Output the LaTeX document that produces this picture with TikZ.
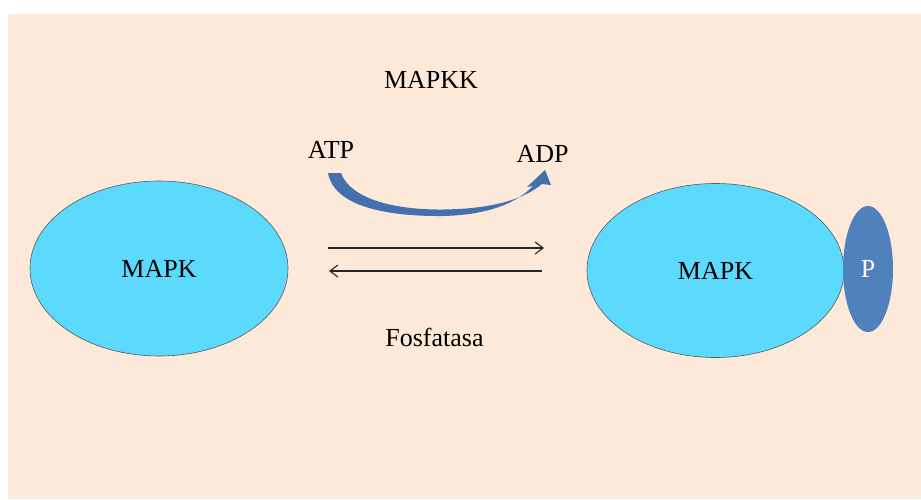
\documentclass[tikz,border=0pt]{standalone}
\usepackage{fontspec}
\setmainfont{Liberation Serif}
\usetikzlibrary{shapes.geometric,arrows.meta}
\definecolor{peach}{RGB}{253,233,217}
\definecolor{mapkblue}{RGB}{91,218,254}
\definecolor{pblue}{RGB}{79,129,189}
\definecolor{curveblue}{RGB}{68,112,176}
\begin{document}
\begin{tikzpicture}[x=1pt,y=-1pt,
  prot/.style={ellipse, draw=black!65, line width=0.6pt, fill=mapkblue, inner sep=0pt, font=\fontsize{26}{31}\selectfont},
  lbl/.style={anchor=base, font=\fontsize{26}{31}\selectfont, inner sep=0pt},
  rxn/.style={draw=black!85, line width=1.1pt, -{Straight Barb[length=8pt,width=12pt]}}]
\useasboundingbox (0,0) rectangle (921,499);
\fill[white] (0,0) rectangle (921,499);
\fill[peach] (8,14) rectangle (921,499);
% proteins
\node[prot, minimum width=258pt, minimum height=175pt] (mapk1) at (159,268.5) {MAPK};
\node[prot, minimum width=257pt, minimum height=174pt] (mapk2) at (715.5,270.5) {MAPK};
\node[ellipse, fill=pblue, inner sep=0pt, minimum width=50pt, minimum height=126pt,
      text=white, font=\fontsize{26}{31}\selectfont] (phos) at (868,269) {P};
% labels
\node[lbl] (mapkk) at (431,88) {MAPKK};
\node[lbl] (fosf) at (434.5,346) {Fosfatasa};
\node[lbl] (atp) at (331,158) {ATP};
\node[lbl] (adp) at (542.5,162) {ADP};
% curved arrow ATP -> ADP
\fill[curveblue] (328,173) .. controls (334,206) and (385,216.5) .. (443,216)
  .. controls (488,215) and (517,203) .. (533,186) -- (527,187) -- (545,170)
  -- (551,185) -- (542,184) .. controls (523,200) and (490,209) .. (443,209.5)
  .. controls (392,210) and (350,198) .. (341,173) -- cycle;
% reaction arrows
\coordinate (f1) at (328,248);
\coordinate (f2) at (544,248);
\coordinate (r1) at (542,271);
\coordinate (r2) at (329,271);
\draw[rxn] (f1) -- (f2);
\draw[rxn] (r1) -- (r2);
\end{tikzpicture}
\end{document}
